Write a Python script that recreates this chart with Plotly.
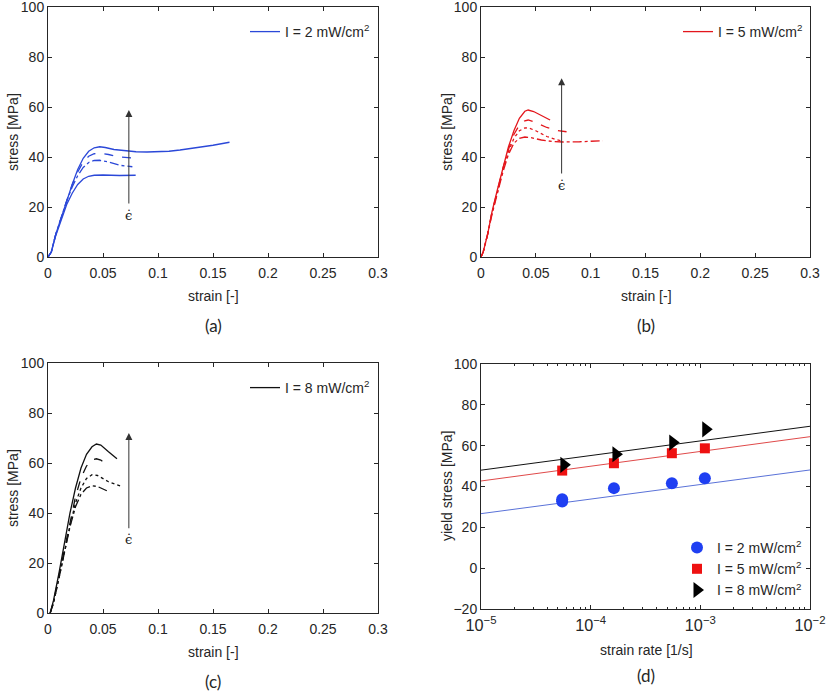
import plotly.graph_objects as go

# ---------------- data ----------------
# Panel (a): I = 2 mW/cm2, four strain rates (low -> high)
a1_strain = [0, 0.003, 0.007, 0.012, 0.017, 0.022, 0.027, 0.032, 0.037, 0.042, 0.05, 0.065, 0.0797]
a1_stress = [0, 2, 8.5, 15, 21, 25.5, 29, 31.2, 32.3, 32.7, 32.8, 32.6, 32.7]
a2_strain = [0, 0.003, 0.007, 0.012, 0.017, 0.022, 0.027, 0.032, 0.037, 0.042, 0.047, 0.055, 0.065, 0.0767]
a2_stress = [0, 2, 9, 16, 22.5, 28, 32.5, 35.8, 37.8, 38.6, 38.7, 38.0, 36.7, 36.1]
a3_strain = [0, 0.003, 0.007, 0.012, 0.017, 0.022, 0.027, 0.032, 0.037, 0.042, 0.047, 0.055, 0.065, 0.0767]
a3_stress = [0, 2, 9, 16, 23, 29, 34, 38, 40.3, 41.3, 41.5, 41.0, 40.0, 39.6]
a4_strain = [0, 0.003, 0.007, 0.012, 0.017, 0.022, 0.027, 0.032, 0.037, 0.042, 0.047, 0.052, 0.06, 0.07,
             0.08, 0.09, 0.10, 0.11, 0.12, 0.13, 0.14, 0.15, 0.165]
a4_stress = [0, 2, 9, 16, 23, 29, 35, 39.5, 42.3, 43.7, 44.1, 43.8, 43.0, 42.4,
             42.1, 42.0, 42.1, 42.3, 42.8, 43.4, 44.0, 44.7, 45.9]

# Panel (b): I = 5 mW/cm2
b1_strain = [0, 0.002, 0.006, 0.01, 0.015, 0.02, 0.025, 0.03, 0.035, 0.04, 0.045, 0.055, 0.065, 0.075, 0.09, 0.10, 0.111]
b1_stress = [0, 2, 9, 17, 25.5, 34, 41, 45.5, 47.5, 48, 47.8, 46.8, 46.2, 46.0, 46.1, 46.3, 46.5]
b2_strain = [0, 0.002, 0.006, 0.01, 0.015, 0.02, 0.025, 0.03, 0.035, 0.04, 0.043, 0.05, 0.06, 0.068, 0.075]
b2_stress = [0, 2, 9, 17.5, 26, 35, 42, 47.5, 50.5, 51.6, 51.7, 50.5, 48.2, 47.0, 46.3]
b3_strain = [0, 0.002, 0.006, 0.01, 0.015, 0.02, 0.025, 0.03, 0.035, 0.04, 0.043, 0.05, 0.06, 0.07, 0.078]
b3_stress = [0, 2, 9, 18, 26.5, 35.5, 43, 49, 52.8, 54.5, 54.8, 53.8, 51.8, 50.6, 50.1]
b4_strain = [0, 0.002, 0.006, 0.01, 0.015, 0.02, 0.025, 0.03, 0.035, 0.04, 0.043, 0.048, 0.055, 0.063]
b4_stress = [0, 2, 9, 18, 27, 36, 44, 50.5, 55.5, 58.3, 58.8, 58.2, 56.5, 54.8]

# Panel (c): I = 8 mW/cm2
c1_strain = [0.002, 0.005, 0.01, 0.015, 0.02, 0.025, 0.03, 0.035, 0.04, 0.045, 0.0545]
c1_stress = [0, 4, 14, 25, 34.5, 42.5, 47.5, 50, 50.9, 50.6, 48.7]
c2_strain = [0.002, 0.005, 0.01, 0.015, 0.02, 0.025, 0.03, 0.035, 0.04, 0.045, 0.055, 0.0667]
c2_stress = [0, 4, 14, 25, 35, 44, 50, 53.8, 55.3, 55.0, 52.5, 50.7]
c3_strain = [0.002, 0.005, 0.01, 0.015, 0.02, 0.025, 0.03, 0.035, 0.04, 0.044, 0.048, 0.0545]
c3_stress = [0, 4.5, 15, 26, 37, 46.5, 54, 58.8, 61.2, 61.7, 61.2, 58.9]
c4_strain = [0.002, 0.005, 0.01, 0.015, 0.02, 0.025, 0.03, 0.035, 0.04, 0.044, 0.048, 0.055, 0.0627]
c4_stress = [0, 5, 16, 28, 40, 50, 58, 63.5, 66.5, 67.6, 67.2, 64.5, 61.7]

# Panel (d): yield stress vs strain rate
rate_2 = [5.5e-5, 5.5e-5, 1.63e-4, 5.5e-4, 1.1e-3]
yield_2 = [32.6, 33.8, 39.2, 41.6, 44.0]
rate_5 = [5.5e-5, 1.63e-4, 5.5e-4, 1.1e-3]
yield_5 = [47.8, 51.4, 56.3, 58.7]
rate_8 = [5.7e-5, 1.7e-4, 5.6e-4, 1.12e-3]
yield_8 = [50.6, 55.8, 61.5, 68.0]
fit_rate = [1e-5, 1e-2]
fit_2 = [26.7, 48.1]
fit_5 = [42.7, 64.4]
fit_8 = [48.0, 69.5]

arrow_strain = 0.0735
arrow_a = [20.8, 58.8]
arrow_b = [32.8, 71.5]
arrow_c = [33.3, 72.0]

strain_ticks = [0, 0.05, 0.1, 0.15, 0.2, 0.25, 0.3]
strain_ticktext = ["0", "0.05", "0.1", "0.15", "0.2", "0.25", "0.3"]
stress_ticks = [0, 20, 40, 60, 80, 100]
yield_ticks = [-20, 0, 20, 40, 60, 80, 100]

# ---------------- styling ----------------
BLUE = "#2b48d8"
RED = "#e3161c"
BLACK = "#111111"
AX = "#262626"
FONT = "Liberation Sans, Arial, sans-serif"
W, H = 827, 692

def px_x(p):
    return min(1.0, max(0.0, p / W))

def px_y(p):
    return min(1.0, max(0.0, 1 - p / H))

fig = go.Figure()

def add_panel(strains, stresses, color, xa, ya, legend_name, label, styles):
    n = len(strains)
    for i, (s, t) in enumerate(zip(strains, stresses)):
        show = (i == n - 1)
        fig.add_trace(go.Scatter(
            x=s, y=t, mode="lines", xaxis=xa, yaxis=ya,
            line=dict(color=color, width=1.3, dash=styles[i]),
            name=label, showlegend=show, legend=legend_name,
        ))

add_panel([a1_strain, a2_strain, a3_strain, a4_strain], [a1_stress, a2_stress, a3_stress, a4_stress],
          BLUE, "x", "y", "legend", "I = 2 mW/cm<sup>2</sup>", ["solid", "dashdot", "dash", "solid"])
add_panel([b1_strain, b2_strain, b3_strain, b4_strain], [b1_stress, b2_stress, b3_stress, b4_stress],
          RED, "x2", "y2", "legend2", "I = 5 mW/cm<sup>2</sup>", ["dashdot", "dot", "dash", "solid"])
add_panel([c1_strain, c2_strain, c3_strain, c4_strain], [c1_stress, c2_stress, c3_stress, c4_stress],
          BLACK, "x3", "y3", "legend3", "I = 8 mW/cm<sup>2</sup>", ["dashdot", "dot", "dash", "solid"])

# panel (d)
fig.add_trace(go.Scatter(x=fit_rate, y=fit_2, mode="lines", xaxis="x4", yaxis="y4",
                         line=dict(color="#5a72d8", width=1), showlegend=False))
fig.add_trace(go.Scatter(x=fit_rate, y=fit_5, mode="lines", xaxis="x4", yaxis="y4",
                         line=dict(color="#e04a4a", width=1), showlegend=False))
fig.add_trace(go.Scatter(x=fit_rate, y=fit_8, mode="lines", xaxis="x4", yaxis="y4",
                         line=dict(color="#111111", width=1), showlegend=False))
fig.add_trace(go.Scatter(x=rate_2, y=yield_2, mode="markers", xaxis="x4", yaxis="y4",
                         marker=dict(symbol="circle", size=12, color="#1f3ff2"),
                         name="I = 2 mW/cm<sup>2</sup>", legend="legend4"))
fig.add_trace(go.Scatter(x=rate_5, y=yield_5, mode="markers", xaxis="x4", yaxis="y4",
                         marker=dict(symbol="square", size=10, color="#ee1111"),
                         name="I = 5 mW/cm<sup>2</sup>", legend="legend4"))
fig.add_trace(go.Scatter(x=rate_8, y=yield_8, mode="markers", xaxis="x4", yaxis="y4",
                         marker=dict(symbol="triangle-right", size=14, color="#000000"),
                         name="I = 8 mW/cm<sup>2</sup>", legend="legend4"))

def axis_style(**kw):
    d = dict(showline=True, linecolor=AX, linewidth=1, mirror="ticks", ticks="inside",
             ticklen=4, tickcolor=AX, tickwidth=1, showgrid=False, zeroline=False,
             tickfont=dict(family=FONT, size=14, color=AX), automargin=False,
             ticklabeloverflow="allow")
    d.update(kw)
    return d

xa_dom = [px_x(48), px_x(378)]
xb_dom = [px_x(481), px_x(810)]
ytop_dom = [px_y(257), px_y(7)]
yc_dom = [px_y(613), px_y(363)]
yd_dom = [px_y(609), px_y(364)]

strain_axis = dict(range=[0, 0.3], tickvals=strain_ticks, ticktext=strain_ticktext, ticklabelstandoff=3)
stress_axis = dict(range=[0, 100], tickvals=stress_ticks)

leg = dict(bgcolor="rgba(0,0,0,0)", font=dict(size=14, family=FONT, color=AX))

fig.update_layout(
    width=W, height=H,
    margin=dict(l=0, r=0, t=0, b=0),
    paper_bgcolor="white", plot_bgcolor="white",
    font=dict(family=FONT, size=14, color=AX),
    xaxis=axis_style(domain=xa_dom, anchor="y", **strain_axis),
    yaxis=axis_style(domain=ytop_dom, anchor="x", **stress_axis),
    xaxis2=axis_style(domain=xb_dom, anchor="y2", **strain_axis),
    yaxis2=axis_style(domain=ytop_dom, anchor="x2", **stress_axis),
    xaxis3=axis_style(domain=xa_dom, anchor="y3", **strain_axis),
    yaxis3=axis_style(domain=yc_dom, anchor="x3", **stress_axis),
    xaxis4=axis_style(domain=xb_dom, anchor="y4", type="log", range=[-5, -2],
                      tickmode="linear", tick0=0, dtick=1, exponentformat="power",
                      ticklabelstandoff=2, tickfont=dict(family=FONT, size=13, color=AX),
                      minor=dict(ticks="inside", ticklen=2, tickcolor=AX, dtick="D1", showgrid=False)),
    yaxis4=axis_style(domain=yd_dom, anchor="x4", range=[-20, 100], tickvals=yield_ticks),
    legend=dict(x=px_x(245), y=px_y(32), xanchor="left", yanchor="middle", **leg),
    legend2=dict(x=px_x(678), y=px_y(32), xanchor="left", yanchor="middle", **leg),
    legend3=dict(x=px_x(245), y=px_y(388), xanchor="left", yanchor="middle", **leg),
    legend4=dict(x=px_x(677), y=px_y(532), xanchor="left", yanchor="top", tracegroupgap=0, **leg),
    showlegend=True,
)

# arrows showing increasing strain rate
for xa, ya, arr in [("x", "y", arrow_a), ("x2", "y2", arrow_b), ("x3", "y3", arrow_c)]:
    fig.add_annotation(x=arrow_strain, y=arr[1], ax=arrow_strain, ay=arr[0],
                       xref=xa, yref=ya, axref=xa, ayref=ya, text="",
                       showarrow=True, arrowhead=2, arrowsize=1.4, arrowwidth=1,
                       arrowcolor="#333333")
    fig.add_annotation(x=arrow_strain, y=arr[0] - 4, xref=xa, yref=ya, text="ϵ̇",
                       showarrow=False, font=dict(family="DejaVu Serif", size=13, color="#222222"))

def label(text, x, y, angle=0, size=14, family=FONT):
    fig.add_annotation(x=px_x(x), y=px_y(y), xref="paper", yref="paper", text=text,
                       showarrow=False, textangle=angle,
                       font=dict(family=family, size=size, color=AX),
                       xanchor="center", yanchor="middle")

# axis titles
label("strain [-]", 213, 296)
label("strain [-]", 646, 296)
label("strain [-]", 213, 652)
label("strain rate [1/s]", 646, 650)
label("stress [MPa]", 13, 132, angle=-90)
label("stress [MPa]", 447, 132, angle=-90)
label("stress [MPa]", 13, 488, angle=-90)
label("yield stress [MPa]", 447, 486, angle=-90)

# panel captions
CAP = "Lato, Open Sans, sans-serif"
label("(a)", 213, 325, size=17, family=CAP)
label("(b)", 646, 325, size=17, family=CAP)
label("(c)", 213, 681, size=17, family=CAP)
label("(d)", 646, 675, size=17, family=CAP)

# remove the default page margin so the figure fills the window exactly
fig.write_html("out.html", config={"displayModeBar": False},
               post_script="document.body.style.margin='0';document.body.style.overflow='hidden';")
